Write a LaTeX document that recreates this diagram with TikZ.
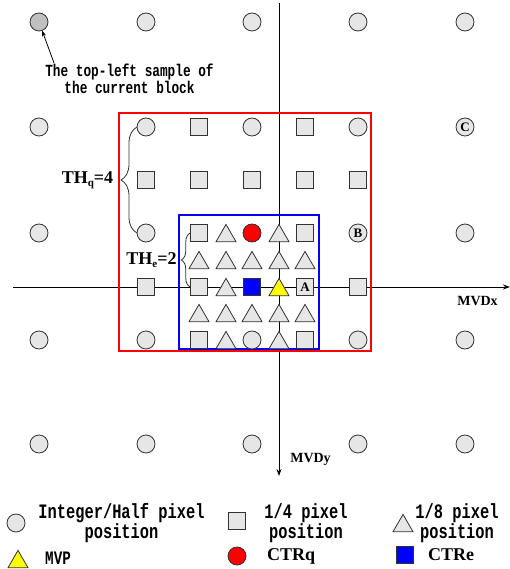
\documentclass[tikz,border=0pt]{standalone}
\usepackage{fontspec}
\setmainfont{Liberation Serif}
\newfontfamily\monob[FakeStretch=0.75]{Liberation Mono}
\usetikzlibrary{shapes.geometric,arrows.meta,decorations.pathreplacing}
\definecolor{gfill}{RGB}{230,230,230}
\definecolor{gdark}{RGB}{192,192,192}
\definecolor{gline}{RGB}{50,50,50}
\definecolor{bred}{RGB}{255,0,0}
\definecolor{bblue}{RGB}{0,0,255}
\definecolor{myyellow}{RGB}{255,255,0}
\begin{document}
\begin{tikzpicture}[x=1pt,y=-1pt,
  shp/.style={draw=gline, fill=gfill, line width=0.8pt, inner sep=0pt, outer sep=0pt},
  circ/.style={shp, circle, minimum size=18pt},
  sqr/.style={shp, rectangle, minimum size=17.5pt},
  tri/.style={shp, regular polygon, regular polygon sides=3, minimum size=23pt, yshift=-2.9pt},
  axis/.style={draw=black, line width=0.9pt, -{Stealth[length=7pt,width=5pt]}},
  bracestyle/.style={draw=gline, line width=0.8pt, decorate},
  lettr/.style={font=\bfseries\fontsize{13}{13}\selectfont},
  monotxt/.style={font=\monob\bfseries\fontsize{20.5}{20}\selectfont, align=center, inner sep=0pt},
  sertxt/.style={font=\bfseries\fontsize{18}{20}\selectfont, inner sep=0pt},
  axtxt/.style={font=\bfseries\fontsize{14}{14}\selectfont, inner sep=0pt}
]
\useasboundingbox (0,0) rectangle (510,569);

% axes
\coordinate (xs) at (13,287);
\coordinate (xe) at (510,287);
\coordinate (ys) at (279,3);
\coordinate (ye) at (279,476);
\draw[axis] (xs) -- (xe);
\draw[axis] (ys) -- (ye);

% search windows
\draw[bred, line width=2pt] (119,113) rectangle (371,351);
\draw[bblue, line width=2pt] (179,215) rectangle (319,349);

% integer / half pixel positions
\node[circ, fill=gdark] (tl) at (39,22) {};
\foreach \x/\y/\n in {146/22/a2,252/22/a3,358/22/a4,465/22/a5,
  39/127/b1,146/127/b2,252/127/b4,358/127/b6,
  39/233/d1,146/233/d2,465/233/d7,
  39/340/g1,146/340/g2,252/340/g5,358/340/g8,465/340/g9,
  39/444/h1,146/444/h2,252/444/h3,358/444/h4,465/444/h5}
  \node[circ] (\n) at (\x,\y) {};
\node[circ, lettr] (cC) at (465,127) {C};
\node[circ, lettr] (cB) at (358,233) {B};
\node[circ, fill=bred] (ctrq) at (252,233) {};

% quarter pixel positions
\foreach \x/\y [count=\i] in {199/127,305/127,146/180,199/180,252/180,305/180,358/180,
  305/233,146/287,358/287,199/340,305/340}
  \node[sqr] (s\i) at (\x,\y) {};
\node[sqr] (sq1) at (199,233) {};
\node[sqr] (sq2) at (199,287) {};
\node[sqr, lettr] (sA) at (305,287) {A};
\node[sqr, fill=bblue] (ctre) at (252,287) {};

% eighth pixel positions
\foreach \x/\y [count=\i] in {226/233,279/233,
  199/260,226/260,252/260,279/260,305/260,
  226/287,
  199/313,226/313,252/313,279/313,305/313,
  226/340,279/340}
  \node[tri] (t\i) at (\x,\y) {};
\node[tri, fill=myyellow] (mvp) at (279,287) {};

% braces and thresholds
\draw[bracestyle, decoration={brace, amplitude=16pt}] (d2.west) -- (b2.west);
\draw[bracestyle, decoration={brace, amplitude=9pt}] (sq2.west) -- (sq1.west);
\node[sertxt] (thq) at (87.5,180) {TH\raisebox{-3.5pt}{\fontsize{11}{11}\selectfont q}=4};
\node[sertxt] (the) at (151.5,260) {TH\raisebox{-3.5pt}{\fontsize{11}{11}\selectfont e}=2};

% axis labels
\node[axtxt] (mvdx) at (477.5,301) {MVDx};
\node[axtxt] (mvdy) at (310.5,459) {MVDy};

% top-left annotation
\node[monotxt, font=\monob\bfseries\fontsize{17}{17}\selectfont] (tltxt) at (129.5,78.5)
  {The top-left sample of\\the current block};
\coordinate (astart) at (54,63);
\draw[draw=black, line width=0.8pt, -{Stealth[length=6pt,width=4pt]}] (astart) -- (tl);

% legend
\node[circ] (lg1) at (16,523) {};
\node[monotxt] (lt1) at (121.5,523) {Integer/Half pixel\\position};
\node[sqr] (lg2) at (237,521) {};
\node[monotxt] (lt2) at (306,523) {1/4 pixel\\position};
\node[tri] (lg3) at (403,523) {};
\node[monotxt] (lt3) at (457,523) {1/8 pixel\\position};
\node[tri, fill=myyellow] (lg4) at (18,559) {};
\node[monotxt, anchor=west, font=\monob\bfseries\fontsize{19}{19}\selectfont] (lt4) at (45,558) {MVP};
\node[circ, fill=bred] (lg5) at (237,556) {};
\node[sertxt, anchor=west] (lt5) at (267,556) {CTRq};
\node[sqr, fill=bblue] (lg6) at (405,555) {};
\node[sertxt, anchor=west] (lt6) at (428,555) {CTRe};
\end{tikzpicture}
\end{document}
